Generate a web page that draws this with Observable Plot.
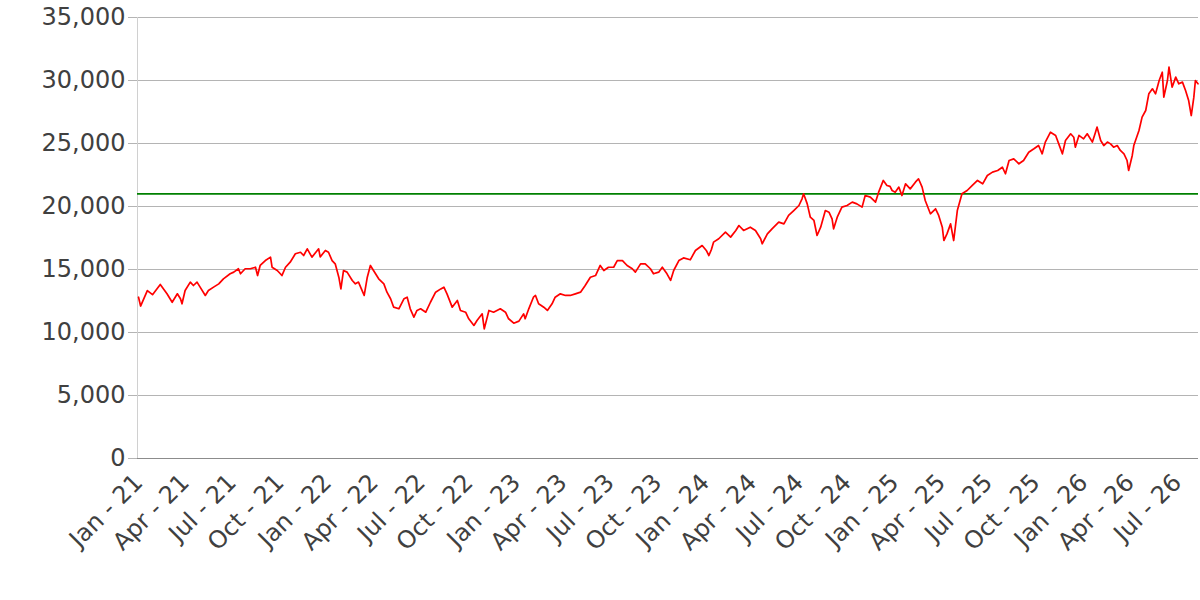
<!DOCTYPE html>
<html><head><meta charset="utf-8">
<script src="https://cdn.jsdelivr.net/npm/d3@7"></script>
<script src="https://cdn.jsdelivr.net/npm/@observablehq/plot@0.6"></script>
<style>body{margin:0;background:#fff;} svg{font-family:"DejaVu Sans";}</style>
</head><body><div id="chart"></div>
<script>
const prices = [
["2021-01-01",12800],["2021-01-05",12100],["2021-01-18",13330],["2021-01-28",13000],["2021-02-12",13810],["2021-02-25",13070],
["2021-03-07",12400],["2021-03-17",13070],["2021-03-23",12680],["2021-03-26",12280],["2021-04-01",13330],["2021-04-11",14000],
["2021-04-17",13730],["2021-04-24",14000],["2021-04-30",13600],["2021-05-10",12940],["2021-05-16",13330],["2021-05-26",13600],
["2021-06-05",13860],["2021-06-14",14260],["2021-06-27",14660],["2021-07-04",14790],["2021-07-13",15060],["2021-07-17",14660],
["2021-07-26",15060],["2021-08-05",15060],["2021-08-15",15180],["2021-08-19",14520],["2021-08-24",15320],["2021-09-03",15710],
["2021-09-13",15980],["2021-09-16",15180],["2021-09-26",14920],["2021-10-02",14660],["2021-10-05",14520],["2021-10-12",15180],
["2021-10-21",15580],["2021-10-31",16250],["2021-11-10",16370],["2021-11-16",16110],["2021-11-23",16640],
["2021-12-02",15980],["2021-12-15",16640],["2021-12-18",16000],["2021-12-28",16510],["2022-01-03",16370],["2022-01-10",15710],
["2022-01-16",15450],["2022-01-23",14390],["2022-01-27",13460],["2022-02-01",14920],["2022-02-08",14790],["2022-02-18",14130],
["2022-02-24",13860],["2022-03-02",14000],["2022-03-09",13330],["2022-03-13",12940],["2022-03-19",14390],["2022-03-25",15320],
["2022-03-31",14920],["2022-04-10",14260],["2022-04-20",13860],["2022-04-26",13200],["2022-05-03",12680],["2022-05-09",12010],
["2022-05-19",11880],["2022-05-29",12680],["2022-06-04",12800],["2022-06-10",11880],["2022-06-17",11220],["2022-06-23",11750],
["2022-06-30",11880],["2022-07-10",11610],["2022-07-19",12400],["2022-07-29",13200],["2022-08-08",13460],["2022-08-14",13600],
["2022-08-20",13070],["2022-08-30",12010],["2022-09-09",12540],["2022-09-15",11750],["2022-09-25",11610],["2022-10-01",11090],
["2022-10-11",10560],["2022-10-17",10950],["2022-10-27",11480],["2022-10-31",10290],["2022-11-09",11750],["2022-11-18",11610],
["2022-12-01",11880],["2022-12-11",11610],["2022-12-17",11090],["2022-12-27",10740],["2023-01-06",10900],["2023-01-15",11480],
["2023-01-18",11090],["2023-01-25",11880],["2023-02-03",12800],["2023-02-07",12940],["2023-02-13",12280],["2023-02-23",12010],
["2023-03-02",11750],["2023-03-11",12280],["2023-03-17",12800],["2023-03-27",13070],["2023-04-06",12940],["2023-04-15",12940],
["2023-04-25",13070],["2023-05-05",13200],["2023-05-14",13730],["2023-05-24",14390],["2023-06-03",14520],["2023-06-12",15320],
["2023-06-19",14920],["2023-06-28",15180],["2023-07-08",15180],["2023-07-15",15710],["2023-07-25",15710],["2023-08-03",15320],
["2023-08-13",15060],["2023-08-19",14790],["2023-08-29",15450],["2023-09-07",15450],["2023-09-17",15060],["2023-09-23",14660],
["2023-10-03",14790],["2023-10-10",15180],["2023-10-19",14660],["2023-10-26",14130],["2023-11-01",14920],["2023-11-11",15710],
["2023-11-20",15920],["2023-12-03",15770],["2023-12-13",16510],["2023-12-26",16900],["2024-01-03",16510],["2024-01-08",16110],
["2024-01-13",16600],["2024-01-17",17170],["2024-01-27",17440],["2024-02-09",17960],["2024-02-19",17570],["2024-02-29",18100],
["2024-03-06",18490],["2024-03-15",18100],["2024-03-28",18360],["2024-04-07",18100],["2024-04-17",17440],["2024-04-20",17040],
["2024-04-30",17830],["2024-05-09",18230],["2024-05-22",18760],["2024-06-01",18620],["2024-06-10",19290],["2024-06-20",19680],
["2024-06-30",20080],["2024-07-06",20610],["2024-07-09",21010],["2024-07-16",20210],["2024-07-22",19150],["2024-07-29",18890],
["2024-08-04",17700],["2024-08-11",18360],["2024-08-20",19680],["2024-08-27",19550],["2024-09-02",19020],["2024-09-05",18230],
["2024-09-12",19150],["2024-09-21",19950],["2024-10-01",20080],["2024-10-11",20350],["2024-10-20",20210],["2024-10-30",19950],
["2024-11-05",20870],["2024-11-15",20740],["2024-11-25",20350],["2024-12-01",21140],["2024-12-10",22070],["2024-12-17",21670],
["2024-12-23",21600],["2024-12-27",21270],["2025-01-02",21140],["2025-01-09",21540],["2025-01-15",20870],["2025-01-22",21800],
["2025-01-31",21400],["2025-02-10",21930],["2025-02-16",22200],["2025-02-23",21540],["2025-03-01",20480],["2025-03-11",19420],
["2025-03-21",19820],["2025-03-27",19290],["2025-04-03",18360],["2025-04-06",17300],["2025-04-12",17830],["2025-04-19",18620],
["2025-04-25",17300],["2025-05-02",19680],["2025-05-11",21010],["2025-05-21",21270],["2025-05-31",21670],["2025-06-10",22070],
["2025-06-20",21800],["2025-06-29",22460],["2025-07-09",22730],["2025-07-19",22860],["2025-07-28",23120],["2025-08-03",22600],
["2025-08-10",23650],["2025-08-19",23780],["2025-08-29",23390],["2025-09-07",23650],["2025-09-17",24310],["2025-09-27",24580],
["2025-10-06",24840],["2025-10-13",24180],["2025-10-19",25110],["2025-10-29",25900],["2025-11-08",25640],["2025-11-14",24970],
["2025-11-21",24180],["2025-11-27",25240],["2025-12-07",25770],["2025-12-13",25500],["2025-12-16",24710],["2025-12-23",25640],
["2026-01-01",25370],["2026-01-08",25770],["2026-01-18",25110],["2026-01-24",25900],["2026-01-27",26300],["2026-02-03",25240],
["2026-02-09",24840],["2026-02-16",25110],["2026-02-22",24970],["2026-02-28",24710],["2026-03-07",24840],["2026-03-13",24450],
["2026-03-20",24180],["2026-03-26",23650],["2026-03-29",22860],["2026-04-05",24050],["2026-04-08",24840],["2026-04-18",26030],
["2026-04-24",27090],["2026-05-01",27620],["2026-05-07",28940],["2026-05-14",29340],["2026-05-20",28940],["2026-05-27",30000],
["2026-06-02",30660],["2026-06-05",28680],["2026-06-12",30000],["2026-06-15",31060],["2026-06-21",29470],["2026-06-28",30270],
["2026-07-04",29740],["2026-07-11",29870],["2026-07-17",29210],["2026-07-23",28410],["2026-07-28",27220],["2026-08-02",28680],
["2026-08-05",30000],["2026-08-10",29740]
];
const threshold = 21000;
const yTicks = [0, 5000, 10000, 15000, 20000, 25000, 30000, 35000];
const xTickDates = ["2021-01-01","2021-04-01","2021-07-01","2021-10-01","2022-01-01","2022-04-01","2022-07-01","2022-10-01",
  "2023-01-01","2023-04-01","2023-07-01","2023-10-01","2024-01-01","2024-04-01","2024-07-01","2024-10-01",
  "2025-01-01","2025-04-01","2025-07-01","2025-10-01","2026-01-01","2026-04-01","2026-07-01"];
const xDomain = ["2020-12-30", "2026-08-11"];

const data = prices.map(([d, v]) => ({date: new Date(d), value: v}));
const xTicks = xTickDates.map(d => new Date(d));
const fmt = d3.utcFormat("%b - %y");

const chart = Plot.plot({
  width: 1200, height: 600,
  marginLeft: 137, marginRight: 2, marginTop: 17, marginBottom: 142,
  style: {fontFamily: "DejaVu Sans", fontSize: "24px", color: "#404040", background: "#fff"},
  x: {type: "utc", domain: xDomain.map(d => new Date(d))},
  y: {domain: [0, 35000]},
  marks: [
    Plot.gridY(yTicks, {stroke: "#b4b4b4", strokeOpacity: 1}),
    Plot.axisY(yTicks, {tickSize: 9, tickPadding: 3, stroke: "#b4b4b4", fill: "#404040", tickFormat: d3.format(","), label: null}),
    Plot.ruleX([new Date(xDomain[0])], {stroke: "#d0d0d0"}),
    Plot.ruleY([0], {stroke: "#8c8c8c"}),
    Plot.axisX(xTicks, {tickSize: 0, tickRotate: -45, tickPadding: 20, tickFormat: fmt, label: null, fill: "#404040"}),
    Plot.ruleY([threshold], {stroke: "#008000", strokeWidth: 1.6}),
    Plot.line(data, {x: "date", y: "value", stroke: "#ff0000", strokeWidth: 1.7})
  ]
});
document.getElementById("chart").appendChild(chart);
</script>
</body></html>
